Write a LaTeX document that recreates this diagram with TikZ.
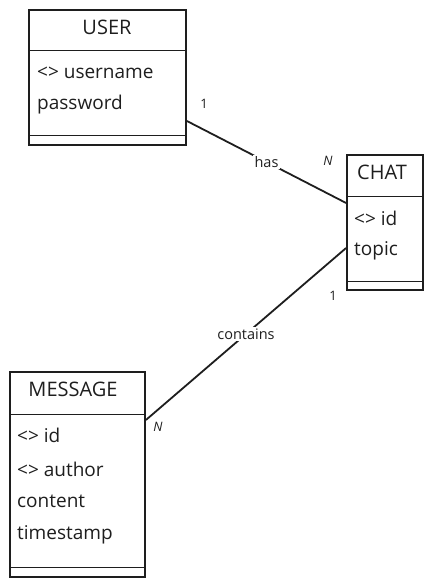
\documentclass[tikz,border=0pt]{standalone}
\usepackage{fontspec}
\setmainfont{Open Sans}
\usetikzlibrary{positioning}
\definecolor{inkline}{HTML}{1e1e1e}

\tikzset{
  entitybox/.style={draw=inkline, line width=1.8pt, inner sep=0pt},
  sepline/.style={draw=inkline, line width=1.1pt},
  titletext/.style={font=\fontsize{20}{22}\selectfont, text=inkline},
  fieldtext/.style={font=\fontsize{19}{21}\selectfont, text=inkline, anchor=west, inner sep=0pt},
  relline/.style={draw=inkline, line width=1.8pt},
  reltext/.style={font=\fontsize{14.5}{16}\selectfont, text=inkline, fill=white, inner sep=1.5pt},
  cardtext/.style={font=\fontsize{13}{15}\selectfont, text=inkline}
}

\begin{document}
\begin{tikzpicture}[x=1pt, y=-1pt]
    \useasboundingbox (0,0) rectangle (433,585);

    % entities
    \node[entitybox, minimum width=157pt, minimum height=135pt] (user) at (107.5,77.5) {};
    \node[entitybox, minimum width=76pt, minimum height=135pt] (chat) at (385,222.5) {};
    \node[entitybox, minimum width=135pt, minimum height=205pt] (message) at (77.5,474.5) {};

    % compartment lines
    \draw[sepline] ([yshift=-41pt]user.north west) -- ([yshift=-41pt]user.north east);
    \draw[sepline] ([yshift=10pt]user.south west) -- ([yshift=10pt]user.south east);
    \draw[sepline] ([yshift=-42pt]chat.north west) -- ([yshift=-42pt]chat.north east);
    \draw[sepline] ([yshift=9pt]chat.south west) -- ([yshift=9pt]chat.south east);
    \draw[sepline] ([yshift=-43pt]message.north west) -- ([yshift=-43pt]message.north east);
    \draw[sepline] ([yshift=10pt]message.south west) -- ([yshift=10pt]message.south east);

    % titles
    \node[titletext] (usertitle) at (107,27) {USER};
    \node[titletext] (chattitle) at (382,172) {CHAT};
    \node[titletext] (messagetitle) at (73,389) {MESSAGE};

    % fields
    \node[fieldtext] (username) at (37,73) {<> username};
    \node[fieldtext] (password) at (37,105) {password};
    \node[fieldtext] (chatid) at (354,218) {<> id};
    \node[fieldtext] (topic) at (354,251) {topic};
    \node[fieldtext] (msgid) at (17,435) {<> id};
    \node[fieldtext] (author) at (17,469) {<> author};
    \node[fieldtext] (content) at (17,501) {content};
    \node[fieldtext] (timestamp) at (17,535) {timestamp};

    % relations
    \draw[relline] ([yshift=-43.5pt]user.east) -- node[reltext] (has) {has} ([yshift=19.5pt]chat.west);
    \draw[relline] ([yshift=-25.5pt]chat.west) -- node[reltext] (contains) {contains} ([yshift=54.5pt]message.east);

    % cardinalities
    \node[cardtext] (userone) at (204,104) {1};
    \node[cardtext] (chatmany) at (328,161) {\itshape N};
    \node[cardtext] (chatone) at (333,296) {1};
    \node[cardtext] (messagemany) at (158,427) {\itshape N};
\end{tikzpicture}
\end{document}
